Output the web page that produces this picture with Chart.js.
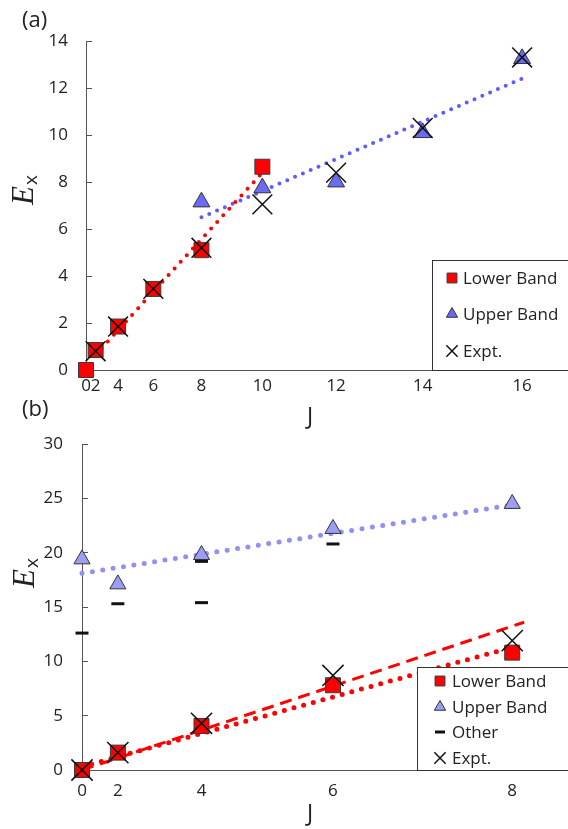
<!DOCTYPE html>
<html>
<head>
<meta charset="utf-8">
<script src="https://cdn.jsdelivr.net/npm/chart.js@4/dist/chart.umd.min.js"></script>
<style>
  body { margin: 0; background: #fff; }
  #wrap { position: relative; width: 568px; height: 829px; overflow: hidden; font-family: "Open Sans", sans-serif; color: #222; }
  .box { position: absolute; left: 0; width: 568px; }
  .lbl { position: absolute; font-size: 22px; line-height: 1; }
  .axlab { position: absolute; font-size: 23px; line-height: 1; transform: translate(-50%, -50%); }
  .ylab { position: absolute; white-space: nowrap; line-height: 1; transform: translate(-50%, -50%) rotate(-90deg); }
  .ylab i { font-family: "Liberation Serif", serif; font-size: 31px; }
  .ylab span { font-size: 19px; position: relative; top: 4px; margin-left: 1px; }
</style>
</head>
<body>
<div id="wrap">
  <div class="box" style="top:0;height:430px"><canvas id="chartA"></canvas></div>
  <div class="box" style="top:400px;height:429px"><canvas id="chartB"></canvas></div>
  <div class="lbl" style="left:22px;top:7px">(a)</div>
  <div class="lbl" style="left:22px;top:396px">(b)</div>
  <div class="axlab" style="left:310px;top:415px">J</div>
  <div class="axlab" style="left:310px;top:812px">J</div>
  <div class="ylab" style="left:22px;top:190px"><i>E</i><span>x</span></div>
  <div class="ylab" style="left:23px;top:573px"><i>E</i><span>x</span></div>
</div>
<script>
// Panel (a) - energies vs J (x axis is J(J+1), labelled with J)
const jTicksA = [0, 2, 4, 6, 8, 10, 12, 14, 16];
const lowerJA = [0, 2, 4, 6, 8, 10];
const lowerEA = [0, 0.85, 1.85, 3.45, 5.1, 8.65];
const upperJA = [8, 10, 12, 14, 16];
const upperEA = [7.15, 7.75, 8.0, 10.1, 13.25];
const exptJA = [2, 4, 6, 8, 10, 12, 14, 16];
const exptEA = [0.8, 1.85, 3.45, 5.2, 7.05, 8.4, 10.3, 13.3];
// trend lines (end points, x in J(J+1))
const lowerFitXA = [6, 110];
const lowerFitYA = [0.65, 8.4];
const upperFitXA = [72, 272];
const upperFitYA = [6.5, 12.4];

// Panel (b)
const jTicksB = [0, 2, 4, 6, 8];
const lowerEB = [0, 1.6, 4.05, 7.8, 10.8];
const upperEB = [19.4, 17.1, 19.8, 22.2, 24.5];
const otherJB = [0, 2, 4, 4, 6];
const otherEB = [12.6, 15.3, 15.4, 19.2, 20.8];
const exptEB = [0, 1.6, 4.3, 8.7, 11.9];
const upperFitXB = [0, 72];
const upperFitYB = [18.1, 24.4];
const lowerFitXB = [0, 72];
const lowerFitYB = [0.3, 11.3];
const lowerFit2XB = [0, 74];
const lowerFit2YB = [0, 13.6];

const jj = j => j * (j + 1);
const pts = (js, es) => js.map((j, i) => ({ x: jj(j), y: es[i] }));
const line = (xs, ys) => xs.map((x, i) => ({ x: x, y: ys[i] }));

const tickFont = { family: 'Open Sans', size: 17 };
const axisColor = '#555';

// legend drawn inside a framed box, like the original
const boxLegend = {
    id: 'boxLegend',
    afterDatasetsDraw(chart, args, opts) {
        if (!opts.items) return;
        const ctx = chart.ctx;
        ctx.save();
        ctx.fillStyle = '#fff';
        ctx.fillRect(opts.x, opts.y, opts.w, opts.h);
        ctx.strokeStyle = '#333';
        ctx.lineWidth = 1;
        ctx.strokeRect(opts.x + 0.5, opts.y + 0.5, opts.w, opts.h);
        opts.items.forEach((it, i) => {
            const ds = chart.data.datasets[it.ds];
            const y = opts.rows[i];
            ctx.fillStyle = ds.backgroundColor || '#000';
            ctx.strokeStyle = ds.borderColor;
            ctx.lineWidth = ds.borderWidth;
            Chart.helpers.drawPoint(ctx, {
                pointStyle: ds.pointStyle, radius: it.r, rotation: 0, borderWidth: ds.borderWidth
            }, opts.symX, y);
            ctx.fillStyle = '#222';
            ctx.font = '17px "Open Sans"';
            ctx.textBaseline = 'middle';
            ctx.fillText(ds.label, opts.textX, y + 1);
        });
        ctx.restore();
    }
};

function makeScales(ticks, xMax, yMax, yStep, yWidth, xHeight, xPad, yPad) {
    return {
        x: {
            type: 'linear', min: 0, max: xMax,
            afterBuildTicks: s => { s.ticks = ticks.map(j => ({ value: jj(j) })); },
            ticks: { autoSkip: false, maxRotation: 0, padding: xPad, font: tickFont, color: '#222',
                     callback: (v, i) => String(ticks[i]) },
            grid: { display: false, drawTicks: false },
            border: { display: true, color: axisColor, width: 1 },
            afterFit: s => { s.height = xHeight; }
        },
        y: {
            min: 0, max: yMax,
            ticks: { stepSize: yStep, padding: yPad, font: tickFont, color: '#222' },
            grid: { drawOnChartArea: false, drawTicks: true, tickLength: -6, color: axisColor },
            border: { display: true, color: axisColor, width: 1 },
            afterFit: s => { s.width = yWidth; }
        }
    };
}

function dotted(label, data, color, width, gap) {
    return { label: label, data: data, showLine: true, pointRadius: 0, borderColor: color,
             borderWidth: width, borderDash: [0, gap], borderCapStyle: 'round', fill: false, order: 6, clip: false };
}

// ---- chart (a)
new Chart(document.getElementById('chartA'), {
    type: 'scatter',
    data: {
        datasets: [
            { label: 'Lower Band', data: pts(lowerJA, lowerEA), pointStyle: 'rect', pointRadius: 10.6,
              backgroundColor: '#ff0000', borderColor: '#3a3a3a', borderWidth: 1, order: 2, clip: false },
            { label: 'Upper Band', data: pts(upperJA, upperEA), pointStyle: 'triangle', pointRadius: 9.8,
              backgroundColor: '#6b6bf2', borderColor: '#333', borderWidth: 1, order: 3, clip: false },
            { label: 'Expt.', data: pts(exptJA, exptEA), pointStyle: 'crossRot', pointRadius: 14,
              borderColor: '#111', borderWidth: 1.5, order: 1, clip: false },
            dotted('fit lower', line(lowerFitXA, lowerFitYA), '#ff0000', 4, 9),
            dotted('fit upper', line(upperFitXA, upperFitYA), '#5c5cff', 4, 8.5)
        ]
    },
    options: {
        responsive: true, maintainAspectRatio: false, animation: false,
        layout: { autoPadding: false, padding: { top: 41, right: 1, left: 0, bottom: 0 } },
        scales: makeScales(jTicksA, 300, 14, 2, 86, 60, 6, 24),
        plugins: {
            legend: { display: false }, tooltip: { enabled: false },
            boxLegend: { x: 432, y: 260, w: 140, h: 110, symX: 452, textX: 463, rows: [278, 314, 351],
                         items: [{ ds: 0, r: 7 }, { ds: 1, r: 6.5 }, { ds: 2, r: 8 }] }
        }
    },
    plugins: [boxLegend]
});

// ---- chart (b)
new Chart(document.getElementById('chartB'), {
    type: 'scatter',
    data: {
        datasets: [
            { label: 'Lower Band', data: pts(jTicksB, lowerEB), pointStyle: 'rect', pointRadius: 10.6,
              backgroundColor: '#ff0000', borderColor: '#3a3a3a', borderWidth: 1, order: 2, clip: false },
            { label: 'Upper Band', data: pts(jTicksB, upperEB), pointStyle: 'triangle', pointRadius: 9.3,
              backgroundColor: '#9d9df5', borderColor: '#333', borderWidth: 1, order: 3, clip: false },
            { label: 'Other', data: pts(otherJB, otherEB), pointStyle: 'line', pointRadius: 6.5,
              borderColor: '#111', borderWidth: 3, order: 4, clip: false },
            { label: 'Expt.', data: pts(jTicksB, exptEB), pointStyle: 'crossRot', pointRadius: 15,
              borderColor: '#111', borderWidth: 1.5, order: 1, clip: false },
            dotted('fit upper', line(upperFitXB, upperFitYB), '#9090f5', 5, 10.5),
            dotted('fit lower', line(lowerFitXB, lowerFitYB), '#ff0000', 5, 10),
            { label: 'fit lower 2', data: line(lowerFit2XB, lowerFit2YB), showLine: true, pointRadius: 0,
              borderColor: '#ff0000', borderWidth: 3, borderDash: [12, 7], fill: false, order: 6, clip: false }
        ]
    },
    options: {
        responsive: true, maintainAspectRatio: false, animation: false,
        layout: { autoPadding: false, padding: { top: 44, right: 2, left: 0, bottom: 0 } },
        scales: makeScales(jTicksB, 81, 30, 5, 82, 59, 11, 25),
        plugins: {
            legend: { display: false }, tooltip: { enabled: false },
            boxLegend: { x: 417, y: 267, w: 155, h: 103, symX: 440, textX: 452, rows: [281, 307, 332, 358],
                         items: [{ ds: 0, r: 7 }, { ds: 1, r: 6.5 }, { ds: 2, r: 5 }, { ds: 3, r: 8 }] }
        }
    },
    plugins: [boxLegend]
});
</script>
</body>
</html>
